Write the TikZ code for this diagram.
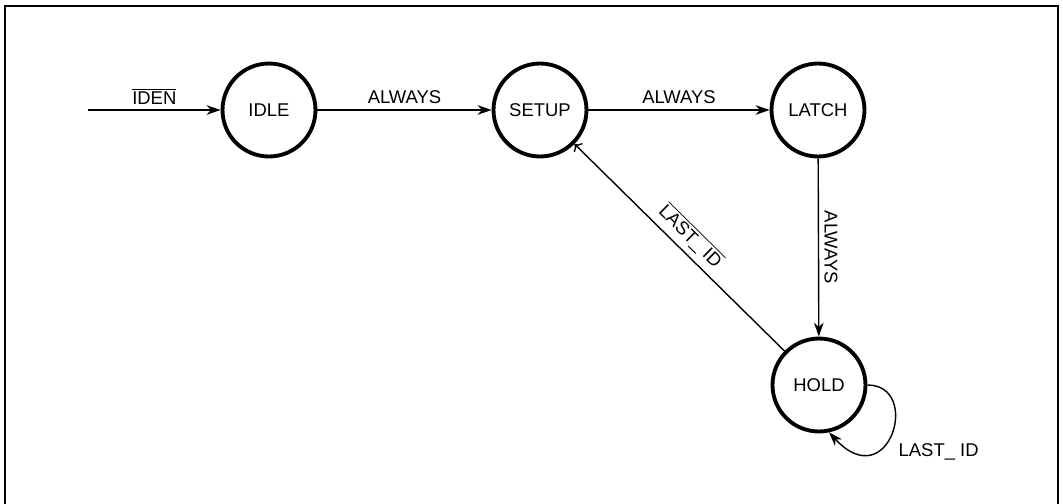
\documentclass[tikz,border=0pt]{standalone}
\usepackage{fontspec}
\setmainfont{Liberation Sans}
\usetikzlibrary{arrows.meta}

\begin{document}
\begin{tikzpicture}[
    x=0.02cm, y=-0.02cm,
    state/.style={circle, draw, line width=2.2pt, minimum size=1.86cm, inner sep=0pt, font=\fontsize{10.5}{12}\selectfont},
    arrow/.style={-{Stealth[length=8pt,width=5.5pt]}, line width=0.8pt},
    lbl/.style={font=\fontsize{10.5}{12}\selectfont, inner sep=3pt}
]
    \useasboundingbox (0,0) rectangle (1063,504);
    % frame
    \draw[line width=1.5pt] (5,504) -- (5,6) -- (1058,6) -- (1058,504);

    \node[state] (idle) at (269,110) {IDLE};
    \node[state] (setup) at (540,110) {SETUP};
    \node[state] (latch) at (818,110) {LATCH};
    \node[state] (hold) at (819,385) {HOLD};
    \coordinate (start) at (88,110);

    \draw[arrow] (start) -- node[lbl, above] {$\overline{\mbox{IDEN}}$} (idle);
    \draw[arrow] (idle) -- node[lbl, above] {ALWAYS} (setup);
    \draw[arrow] (setup) -- node[lbl, above] {ALWAYS} (latch);
    \draw[arrow] (latch) -- node[lbl, above, sloped] {ALWAYS} (hold);
    \draw[arrow, <-] (setup) -- node[lbl, above, sloped] {$\overline{\mbox{LAST\_ ID}}$} (hold);
    \draw[arrow] (hold.east) .. controls +(55,0) and +(60,65) .. (hold.-78)
        node[lbl, pos=0.75, right=14pt] {LAST\_ ID};
\end{tikzpicture}
\end{document}
